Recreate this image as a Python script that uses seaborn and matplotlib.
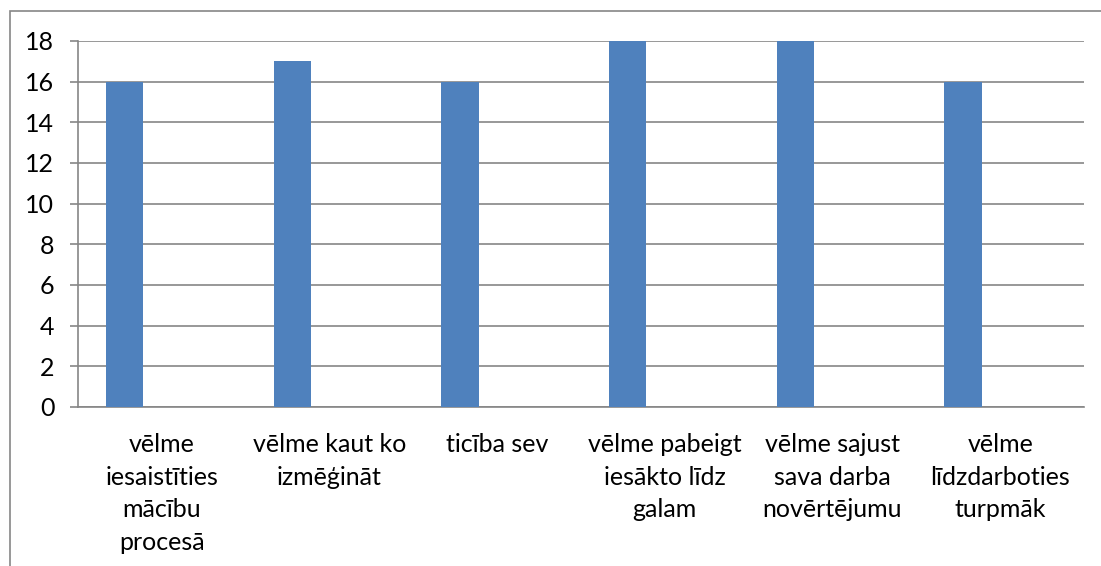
import matplotlib
matplotlib.use('Agg')
import matplotlib.pyplot as plt
import seaborn as sns
import pandas as pd
import numpy as np

# chart data
categories = [
    'vēlme\niesaistīties\nmācību\nprocesā',
    'vēlme kaut ko\nizmēģināt',
    'ticība sev',
    'vēlme pabeigt\niesākto līdz\ngalam',
    'vēlme sajust\nsava darba\nnovērtējumu',
    'vēlme\nlīdzdarboties\nturpmāk',
]
series_1 = [16, 17, 16, 18, 18, 16]
# the original chart has two more (empty) series next to the blue one
series_2 = [0, 0, 0, 0, 0, 0]
series_3 = [0, 0, 0, 0, 0, 0]
y_ticks = [0, 2, 4, 6, 8, 10, 12, 14, 16, 18]

df = pd.DataFrame({
    'category': categories * 3,
    'series': ['s1'] * 6 + ['s2'] * 6 + ['s3'] * 6,
    'value': series_1 + series_2 + series_3,
})

sns.set_style('white')
plt.rcParams['font.family'] = ['Lato', 'DejaVu Sans']
plt.rcParams['text.color'] = 'black'

grid_col = '#868686'
bar_col = '#4F81BD'

fig = plt.figure(figsize=(11.01, 5.66), dpi=100)
ax = fig.add_axes([78 / 1101, 1 - 407 / 566, (1084 - 78) / 1101, (407 - 41) / 566])

sns.barplot(data=df, x='category', y='value', hue='series',
            hue_order=['s1', 's2', 's3'], order=categories,
            palette=[bar_col, bar_col, bar_col], width=2 / 3, saturation=1,
            linewidth=0, legend=False, ax=ax, zorder=3)

ax.set_xlim(-0.5, len(categories) - 0.5)
ax.set_ylim(0, 18)
ax.set_yticks(y_ticks)
ax.set_yticklabels([str(v) for v in y_ticks])
ax.yaxis.grid(True, color=grid_col, linewidth=1.2)
ax.set_axisbelow(True)

# category labels centred, tick marks on category borders
ax.set_xticks(range(len(categories)))
ax.set_xticklabels(categories, linespacing=1.5, va='top')
ax.set_xticks(np.arange(-0.5, len(categories), 1), minor=True)
ax.tick_params(axis='x', which='major', length=0, pad=19, labelsize=18, labelcolor='black')
ax.tick_params(axis='x', which='minor', length=6, width=1.2, color=grid_col, direction='out')
ax.tick_params(axis='y', length=6, width=1.2, color=grid_col, direction='out',
               pad=11, labelsize=18, labelcolor='black', left=True)
ax.set_xlabel('')
ax.set_ylabel('')

for s in ['top', 'right']:
    ax.spines[s].set_visible(False)
for s in ['left', 'bottom']:
    ax.spines[s].set_color(grid_col)
    ax.spines[s].set_linewidth(1.2)

# chart frame (cut off on the right and bottom)
frame = plt.Rectangle((9.5 / 1101, -0.2), 1.2, 1 - 11 / 566 + 0.2,
                      transform=fig.transFigure, fill=False,
                      edgecolor=grid_col, linewidth=1.2)
fig.add_artist(frame)

fig.savefig('out.png', dpi=100)
